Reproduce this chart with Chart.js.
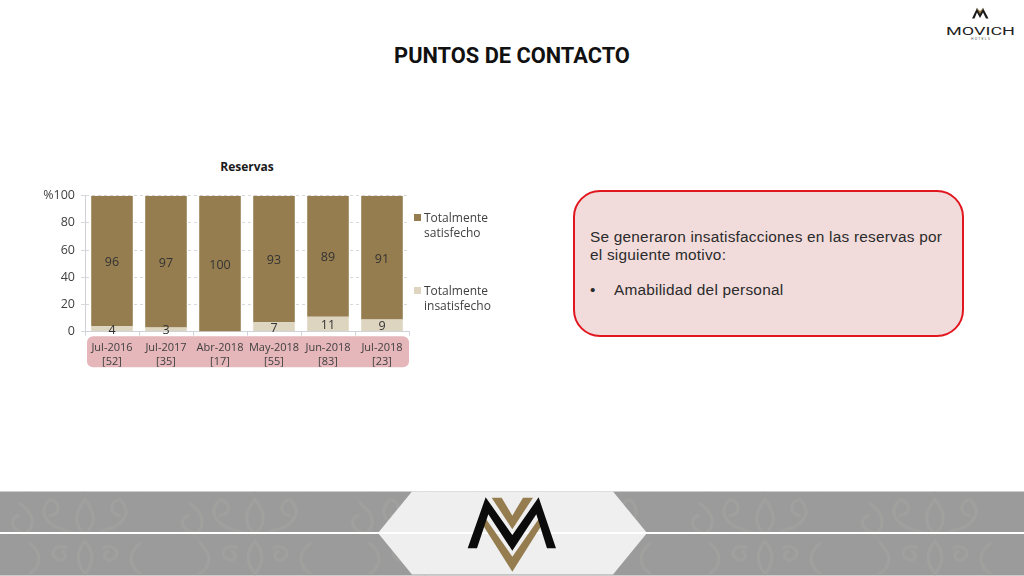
<!DOCTYPE html>
<html>
<head>
<meta charset="utf-8">
<script src="https://cdn.jsdelivr.net/npm/chart.js@4"></script>
<style>
html, body { margin: 0; padding: 0; background: #fff; }
body { width: 1024px; height: 576px; position: relative; overflow: hidden; font-family: "Open Sans", sans-serif; color: #262626; }
.abs { position: absolute; }
#title { left: 312px; width: 400px; top: 42px; text-align: center; font: bold 21.8px/28px Roboto, sans-serif; color: #111; }
#chart-title { left: 147px; width: 200px; top: 159px; text-align: center; font: bold 12px/16px "Open Sans", sans-serif; color: #1a1a1a; }
#chart-wrap { left: 30px; top: 150px; width: 432px; height: 230px; }
#note { left: 573px; top: 190px; width: 387px; height: 143px; background: #f2dcdb; border: 2px solid #e2161e; border-radius: 27px; }
.note-line { position: absolute; font-family: "Liberation Sans", sans-serif; font-size: 15.4px; letter-spacing: 0.22px; line-height: 18px; white-space: nowrap; color: #2b2b2b; }
.legend-item { position: absolute; left: 414px; font-size: 12px; line-height: 15px; color: #404040; padding-left: 10px; }
.legend-item i { position: absolute; left: 0; top: 4px; width: 7px; height: 7px; }
</style>
</head>
<body>
<div class="abs" id="title">PUNTOS DE CONTACTO</div>

<svg class="abs" style="left:930px;top:0" width="94" height="50" viewBox="0 0 94 50">
  <path d="M42 18.5 L47 8 L50 12.5 L53 8 L58.5 18.5 L56 18.5 L53 12.5 L50 18 L47 12.5 L44.5 18.5 Z" fill="#1a1a1a"/>
  <path d="M46 7.5 L50 11 L54 7.5 L50 14 Z" fill="#957d4f"/>
  <text x="16" y="35" font-family="Roboto, sans-serif" font-size="11.5" textLength="69" lengthAdjust="spacingAndGlyphs" fill="#222">MOVICH</text>
  <text x="41" y="39.5" font-family="Roboto, sans-serif" font-size="3.5" textLength="19" fill="#555">HOTELS</text>
</svg>

<div class="abs" id="chart-title"></div>
<div class="abs" id="chart-wrap"><canvas id="reservas-chart"></canvas></div>
<div id="legend"></div>

<div class="abs" id="note">
  <div class="note-line" style="left:15px;top:36px">Se generaron insatisfacciones en las reservas por<br>el siguiente motivo:</div>
  <div class="note-line" style="left:15px;top:89px">•</div>
  <div class="note-line" style="left:39px;top:89px">Amabilidad del personal</div>
</div>

<svg class="abs" style="left:0;top:485px" width="1024" height="91" viewBox="0 0 1024 91">
  <defs>
    <pattern id="damask" width="170" height="84" patternUnits="userSpaceOnUse" x="0" y="6.5">
      <g fill="none" stroke="#a0a09e" stroke-width="3" stroke-linecap="round">
        <path d="M85 8 C74 22 74 34 85 42 C96 34 96 22 85 8 Z"/>
        <path d="M70 40 C48 36 36 22 50 8 C62 10 60 24 50 24"/>
        <path d="M100 40 C122 36 134 22 120 8 C108 10 110 24 120 24"/>
        <path d="M20 12 C34 22 36 34 26 42 C12 40 8 28 18 24"/>
        <path d="M85 50 C76 60 76 72 85 82 C94 72 94 60 85 50 Z"/>
        <path d="M66 56 C54 52 48 64 58 68 C66 70 68 62 62 60"/>
        <path d="M104 56 C116 52 122 64 112 68 C104 70 102 62 108 60"/>
        <path d="M140 52 C128 62 128 74 140 82"/>
        <path d="M30 52 C42 62 42 74 30 82"/>
      </g>
    </pattern>
  </defs>
  <rect x="0" y="6.5" width="1024" height="84" fill="#9b9b9b"/>
  <rect x="0" y="6.5" width="1024" height="84" fill="url(#damask)"/>
  <rect x="0" y="47" width="1024" height="2" fill="#fff"/>
  <path d="M412 6.5 L613 6.5 L647 48 L613 89.5 L412 89.5 L378 48 Z" fill="#efefef"/>
  <rect x="378" y="47" width="269" height="2" fill="#fff"/>
  <g transform="translate(380 0) scale(0.3333)">
    <path d="M335 38 L365 38 L397 92 L429 38 L459 38 L397 133 Z" fill="#957d4f"/>
    <path d="M310 122 L318 102 L397 215 L476 102 L484 122 L397 260 Z" fill="#957d4f"/>
    <path d="M263 190 L317 37 L397 150 L476 37 L528 190 L501 190 L469 88 L397 197 L325 88 L291 190 Z" fill="#0b0b0b"/>
  </g>
</svg>

<script>
const chartTitle = 'Reservas';
const categories = [['Jul-2016', '[52]'], ['Jul-2017', '[35]'], ['Abr-2018', '[17]'], ['May-2018', '[55]'], ['Jun-2018', '[83]'], ['Jul-2018', '[23]']];
const satisfecho = [96, 97, 100, 93, 89, 91];
const insatisfecho = [4, 3, 0, 7, 11, 9];
const yTicks = [0, 20, 40, 60, 80, 100];

const legendItems = [
    { lines: ['Totalmente', 'satisfecho'], color: '#957d4f', top: 210 },
    { lines: ['Totalmente', 'insatisfecho'], color: '#ddd5c0', top: 283 }
];

// franja rosa detras de las etiquetas del eje x
const tickBand = {
    id: 'tickBand',
    beforeDraw(chart) {
        const { ctx, chartArea } = chart;
        ctx.save();
        ctx.fillStyle = '#e5b7ba';
        ctx.beginPath();
        ctx.roundRect(chartArea.left + 2, chartArea.bottom + 4.5, chartArea.width - 2, 31, 6);
        ctx.fill();
        ctx.restore();
    }
};

// numeros dentro de cada barra, los ceros no se pintan
const barLabels = {
    id: 'barLabels',
    afterDatasetsDraw(chart) {
        const { ctx } = chart;
        ctx.save();
        ctx.font = '12.5px "Open Sans", sans-serif';
        ctx.fillStyle = '#333';
        ctx.textAlign = 'center';
        ctx.textBaseline = 'middle';
        chart.data.datasets.forEach((ds, i) => {
            chart.getDatasetMeta(i).data.forEach((bar, j) => {
                if (!ds.data[j]) return;
                const p = bar.getCenterPoint();
                ctx.fillText(ds.data[j], p.x, p.y + 1.5);
            });
        });
        ctx.restore();
    }
};

document.getElementById('chart-title').textContent = chartTitle;

const ctx = document.getElementById('reservas-chart').getContext('2d');
new Chart(ctx, {
    type: 'bar',
    data: {
        labels: categories,
        datasets: [
            { label: 'Totalmente insatisfecho', data: insatisfecho, backgroundColor: '#ddd5c0', barPercentage: 0.77, categoryPercentage: 1 },
            { label: 'Totalmente satisfecho', data: satisfecho, backgroundColor: '#957d4f', barPercentage: 0.77, categoryPercentage: 1 }
        ]
    },
    options: {
        responsive: true,
        maintainAspectRatio: false,
        animation: false,
        layout: { padding: { left: 0, right: 53, top: 45.7, bottom: 0 } },
        plugins: {
            legend: { display: false },
            tooltip: { enabled: false }
        },
        scales: {
            x: {
                stacked: true,
                afterFit(scale) { scale.height = 48.3; },
                grid: { display: true, drawOnChartArea: false, color: '#cfd3d9', tickLength: 4 },
                border: { color: '#cfd3d9' },
                ticks: { color: '#404040', font: { family: '"Open Sans", sans-serif', size: 11, lineHeight: 1.27 }, maxRotation: 0, autoSkip: false, padding: 5.5 }
            },
            y: {
                stacked: true,
                min: 0,
                max: 100,
                afterFit(scale) { scale.width = 55; },
                afterBuildTicks(scale) { scale.ticks = yTicks.map(v => ({ value: v })); },
                grid: { color: '#d9d9d9', tickLength: 4 },
                border: { color: '#cfd3d9', dash: [3, 3] },
                ticks: {
                    color: '#404040',
                    font: { family: '"Open Sans", sans-serif', size: 12.5 },
                    padding: 6,
                    callback: v => v === 100 ? '%100' : v
                }
            }
        }
    },
    plugins: [tickBand, barLabels]
});

// leyenda a mano porque las etiquetas van en dos lineas
const legendEl = document.getElementById('legend');
legendItems.forEach(item => {
    const div = document.createElement('div');
    div.className = 'legend-item';
    div.style.top = item.top + 'px';
    div.innerHTML = `<i style="background:${item.color}"></i>${item.lines.join('<br>')}`;
    legendEl.appendChild(div);
});
</script>
</body>
</html>
